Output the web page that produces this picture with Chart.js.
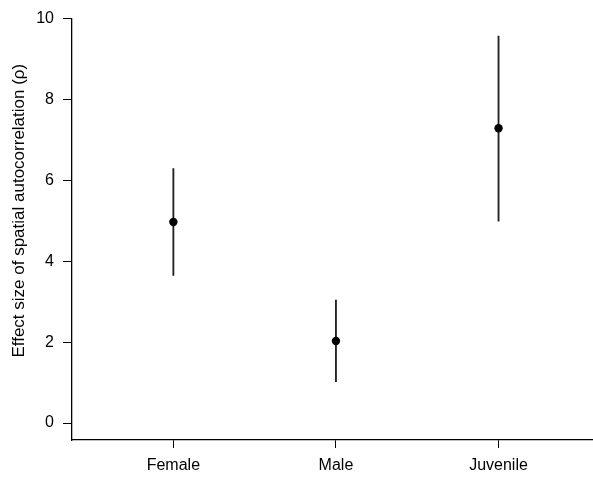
<!DOCTYPE html>
<html>
<head>
<meta charset="utf-8">
<script src="https://cdn.jsdelivr.net/npm/chart.js@4"></script>
<style>
html,body{margin:0;padding:0;background:#fff;overflow:hidden;width:593px;height:477px;}
#wrap{width:598px;height:477px;position:relative;}
</style>
</head>
<body>
<div id="wrap"><canvas id="c"></canvas></div>
<script>
const categories = ["Female", "Male", "Juvenile"];
const estimates = [4.97, 2.03, 7.29];
const lowerCI = [3.65, 1.02, 4.99];
const upperCI = [6.29, 3.04, 9.57];
const yTicks = [0, 2, 4, 6, 8, 10];
const yTitle = "Effect size of spatial autocorrelation (\u03c1)";

const FONT = "'Liberation Sans', Arial, Helvetica, sans-serif";

const yTitlePlugin = {
  id: 'yTitlePlugin',
  afterDraw(chart) {
    const ctx = chart.ctx;
    const y = chart.scales.y;
    const cy = y.getPixelForValue(5.25);
    ctx.save();
    ctx.translate(19, cy);
    ctx.rotate(-Math.PI / 2);
    ctx.font = "17px " + FONT;
    ctx.fillStyle = '#000';
    ctx.textAlign = 'center';
    ctx.textBaseline = 'middle';
    ctx.fillText(yTitle, 0, 0);
    ctx.restore();
  }
};

new Chart(document.getElementById('c'), {
  data: {
    datasets: [
      {
        type: 'bar',
        data: categories.map((c, i) => ({x: i + 1, y: [lowerCI[i], upperCI[i]]})),
        backgroundColor: '#222',
        borderWidth: 0,
        barThickness: 1.2,
        order: 2
      },
      {
        type: 'scatter',
        data: categories.map((c, i) => ({x: i + 1, y: estimates[i]})),
        pointRadius: 4.2,
        pointBackgroundColor: '#000',
        pointBorderWidth: 0,
        showLine: false,
        order: 1
      }
    ]
  },
  plugins: [yTitlePlugin],
  options: {
    responsive: true,
    maintainAspectRatio: false,
    animation: false,
    layout: {padding: {top: 18, right: 0, left: 0, bottom: 0}},
    plugins: {legend: {display: false}, tooltip: {enabled: false}},
    scales: {
      x: {
        type: 'linear',
        offset: false,
        min: 0.3765,
        max: 3.586,
        afterBuildTicks: (s) => { s.ticks = categories.map((c, i) => ({value: i + 1})); },
        afterFit: (s) => { s.height = 37; },
        ticks: {
          callback: (v) => categories[Math.round(v) - 1] || '',
          color: '#000',
          font: {family: FONT, size: 16},
          padding: 8,
          maxRotation: 0,
          autoSkip: false
        },
        grid: {offset: false, drawOnChartArea: false, tickLength: 8, color: '#000', lineWidth: 1},
        border: {display: true, color: '#000', width: 1.3}
      },
      y: {
        type: 'linear',
        min: -0.42,
        max: 10,
        afterBuildTicks: (s) => { s.ticks = yTicks.map(v => ({value: v})); },
        afterFit: (s) => { s.width = 72; },
        ticks: {
          color: '#000',
          font: {family: FONT, size: 16},
          padding: 9,
          autoSkip: false
        },
        grid: {drawOnChartArea: false, tickLength: 9, color: '#000', lineWidth: 1},
        border: {display: true, color: '#000', width: 1.3}
      }
    }
  }
});
</script>
</body>
</html>
